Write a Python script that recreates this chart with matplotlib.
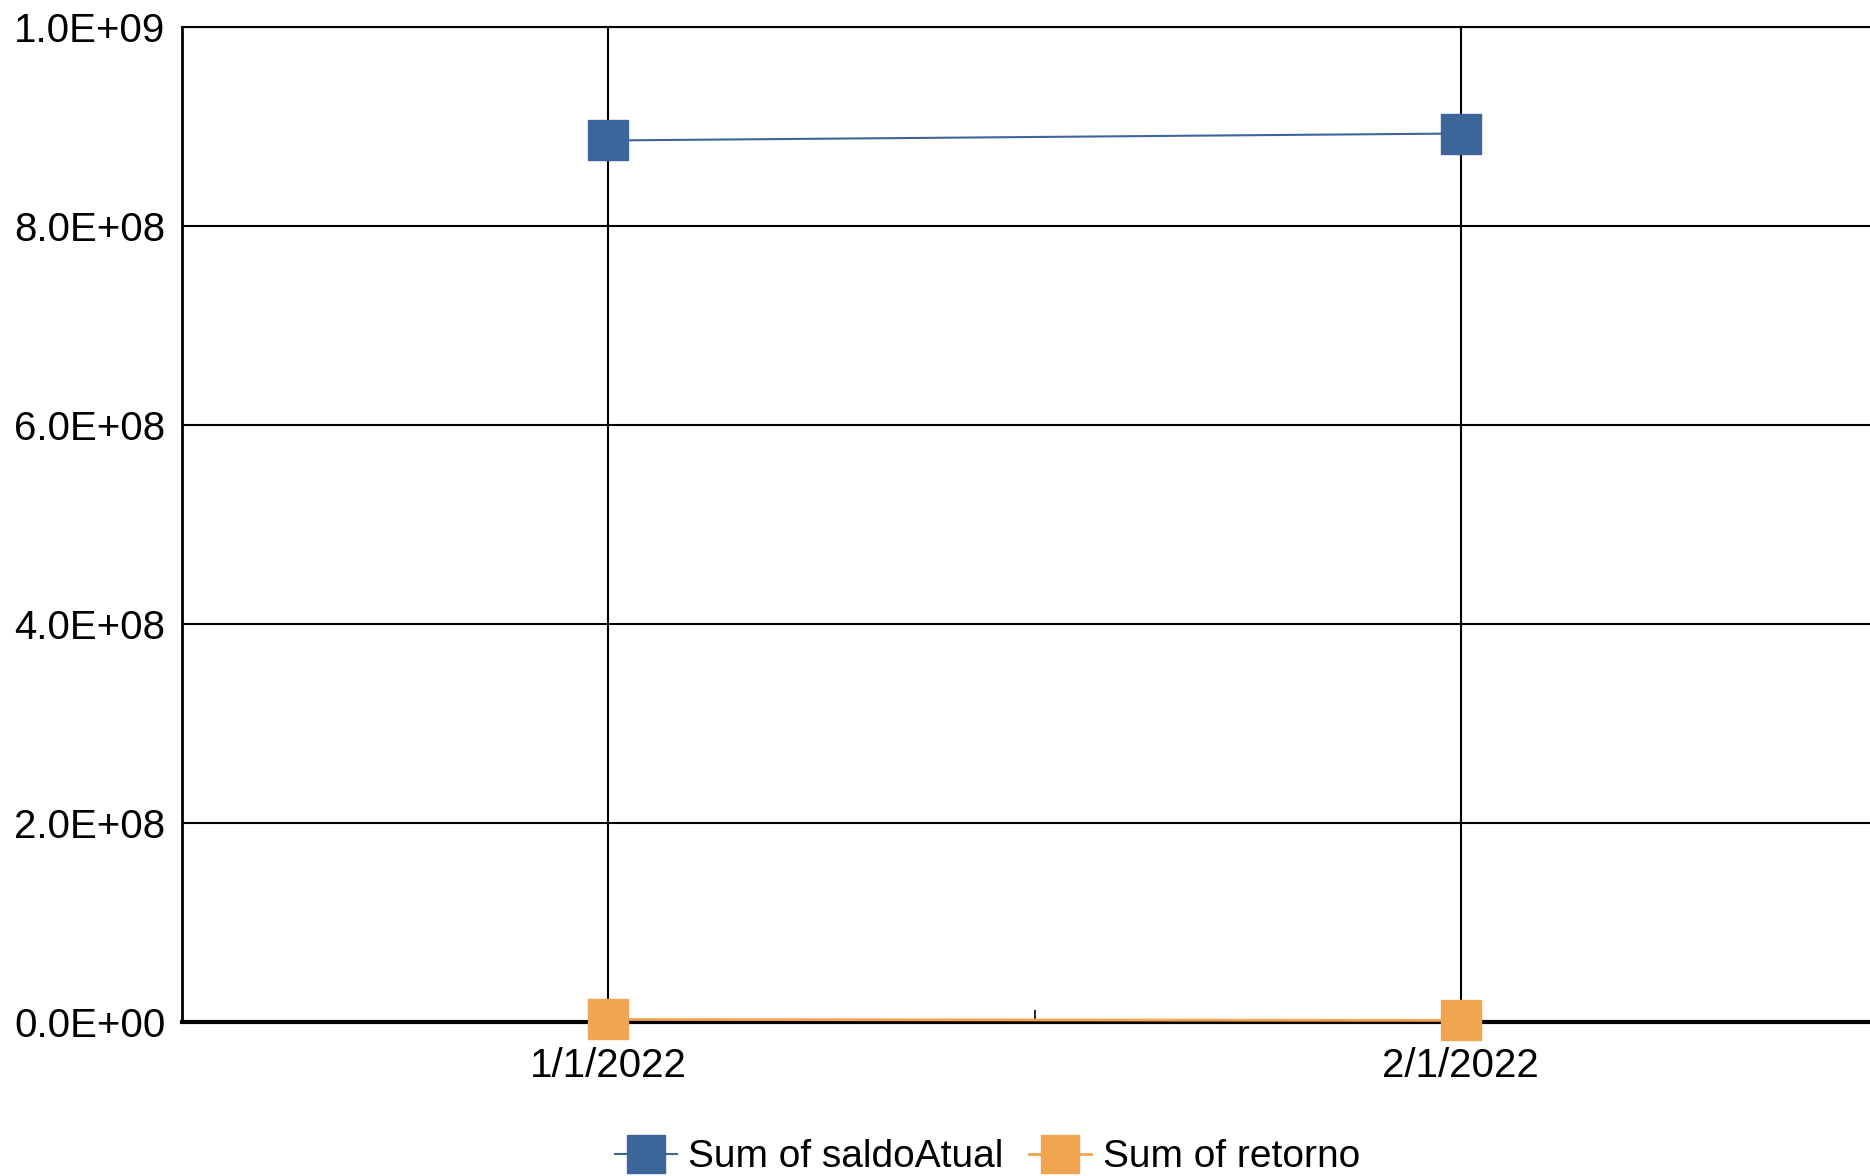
import matplotlib
matplotlib.use("Agg")
import matplotlib.pyplot as plt
from matplotlib.ticker import FuncFormatter, FixedLocator

plt.rcParams['font.family'] = ['Liberation Sans', 'DejaVu Sans']

dates = ["1/1/2022", "2/1/2022"]
saldo_atual = [8.86e8, 8.93e8]
retorno = [2.5e6, 1.5e6]
series_names = ["Sum of saldoAtual", "Sum of retorno"]
y_ticks = [0, 2e8, 4e8, 6e8, 8e8, 1e9]

blue = "#3C6699"
orange = "#F0A550"

fig = plt.figure(figsize=(18.7, 11.76), dpi=100)
ax = fig.add_axes([0.0973, 0.131, 0.9027, 0.846])

ax.plot(dates, saldo_atual, color=blue, lw=1.5, marker='s', markersize=29,
        label=series_names[0], clip_on=False, zorder=4)
ax.plot(dates, retorno, color=orange, lw=2, marker='s', markersize=29,
        label=series_names[1], clip_on=False, zorder=4)

ax.set_xlim(-0.5, 1.48)
ax.set_ylim(0, 1e9)
ax.set_yticks(y_ticks)
ax.yaxis.set_major_formatter(FuncFormatter(lambda v, p: f"{v:.1E}"))
ax.grid(True, axis='both', color='black', lw=1.5, zorder=1)
ax.xaxis.set_minor_locator(FixedLocator([0.5]))
ax.tick_params(axis='x', which='minor', direction='in', length=9, width=1.2, color='black')
ax.tick_params(axis='x', which='major', length=0, pad=18, labelsize=29)
ax.tick_params(axis='y', length=0, pad=12, labelsize=29)

ax.spines['right'].set_visible(False)
ax.spines['top'].set_linewidth(1.5)
ax.spines['left'].set_linewidth(2)
ax.spines['bottom'].set_linewidth(3)
ax.spines['bottom'].set_zorder(3)

leg = fig.legend(loc='center', bbox_to_anchor=(0.528, 0.016), ncol=2, frameon=False,
                 fontsize=28, handlelength=1.6, handletextpad=0.3, columnspacing=0.65,
                 markerscale=0.95)

fig.savefig("out.png", dpi=100)
